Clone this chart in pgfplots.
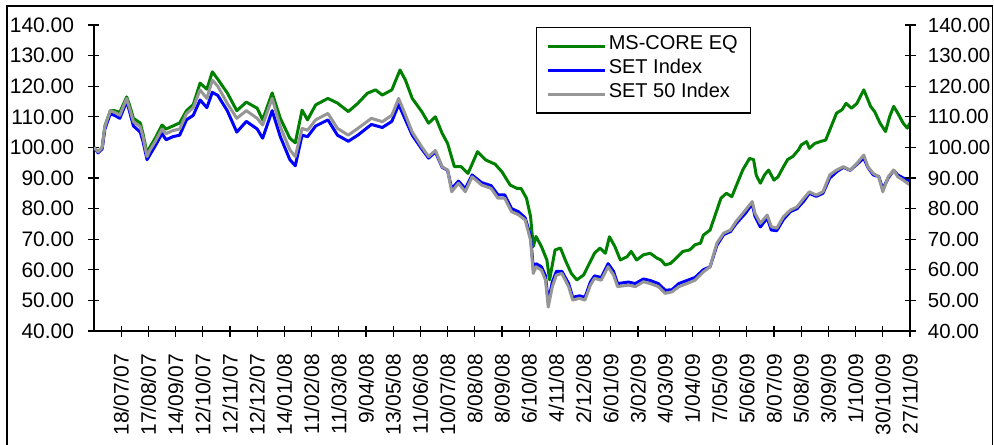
\documentclass[border=0pt]{standalone}
\usepackage{fontspec}
\setmainfont{Liberation Sans}
\usepackage{pgfplots}
\pgfplotsset{compat=1.18}
\usepackage{pgfplotstable}

\definecolor{msgreen}{RGB}{0,128,0}
\definecolor{setblue}{RGB}{0,0,255}
\definecolor{setgray}{RGB}{150,150,150}

\pgfplotstableread{
x y
0 100
3 98.5
6 100
8 107
12 112
15 112
19 111.5
24 116.5
26 114
29 109.5
34 108
36 104.5
39 98
41 100
45 103
50 107.3
53 106
58 107
63 108
68 112
73 114
78 121
83 119
87 124.7
91 122.3
98 117.8
105 112
112 114.8
120 112.8
124 109
131 117.8
137 109.5
144 103
148 101.5
153 112.2
157 109
163 113.9
172 116
179 114.5
187 111.7
194 114.4
201 117.7
207 118.8
212 117.1
219 118.8
225 125.3
229 122
234 116
241 111.7
246 107.9
251 110
256 104.6
260 101.3
265 93.7
270 93.7
275 91.5
282 98.6
288 95.9
295 94.5
300 92
306 87.7
311 86.6
314 86.6
318 83.4
321 77.4
323 67.6
325 70.9
329 67.6
333 63.2
335 56.7
339 66.5
343 67.1
347 62.7
351 58.8
355 56.7
360 58.3
363 61
368 65.4
372 67.1
376 65.4
379 70.8
383 67.6
387 63.2
392 64.3
395 66
399 63.2
404 64.9
409 65.4
414 63.8
417 63.2
420 61.6
424 62.1
428 63.8
433 66
438 66.5
442 68.2
446 68.7
448 71.3
453 73
458 79.5
461 83.4
465 85
469 83.9
472 87.2
477 92.6
482 96.4
485 96
487 90.8
490 88.3
493 91
496 92.6
500 89.3
503 90.4
507 93.7
510 96
514 97.1
518 99.2
520 100.8
524 101.9
526 99.7
530 101.3
534 101.9
538 102.4
540 104.6
544 109
546 111.2
550 112.3
553 114.4
557 112.8
561 114.4
566 118.8
568 116.7
571 113.4
574 111.7
578 107.9
582 105.2
585 110
588 113.4
591 111.2
595 107.9
598 106.3
600 108
}\tgreen

\pgfplotstableread{
x y
0 100
3 98.2
6 99.5
8 106
12 111
15 110.5
19 109.5
24 115
26 112
29 107
34 105
36 102
39 96
41 97.5
45 100.5
50 104.5
53 102.5
58 103.5
63 104
68 109
73 110.5
78 115.5
83 113
87 118
91 117
98 112
105 105
112 108.5
120 106
124 103
131 112
137 103.5
144 96
148 94
153 104
157 103.5
163 107
172 109
179 104
187 102
194 104
204 107.5
212 106.5
219 108.5
224 114
229 109
234 104
241 99.5
246 96.5
251 98.5
256 93.5
260 92.5
263 86.5
268 89
273 86.5
278 91
285 88.5
292 87.5
297 84.5
302 84.5
307 80
312 79
317 77
321 71
323 60.5
325 62
329 61
332 58
334 49.5
337 56
340 59.5
344 59.5
349 55.5
352 51
357 51.5
361 51
365 56
368 58
373 57.5
378 62
382 59.5
385 55.5
393 56
398 55.5
404 57
409 56.5
415 55.5
420 53.3
425 53.5
430 55.5
436 56.5
442 57.5
448 60
453 61
458 68
463 71.5
468 72.5
472 75
479 78.5
484 81.5
486 77.5
490 74
495 77
498 73
502 72.8
507 76.5
512 79
517 80
522 82.5
526 85
531 84
536 85
541 90
546 92
551 93.5
556 92.5
561 94.5
566 96.5
569 93.5
573 91
577 90.5
580 86.5
584 90
588 92.5
591 91
595 90
599 89.3
600 89
}\tblue

\pgfplotstableread{
x y
0 100
3 98.5
6 100
8 106.8
12 112
15 111.5
19 110.5
24 116
26 113
29 108.4
34 106.8
36 103.5
39 97
41 99
45 101.9
50 106
53 104.5
58 105.5
63 106
68 111
73 113
78 118.8
83 116
87 122
91 120
98 114.4
105 109.5
112 112
120 109.5
124 107.3
131 116
137 106.8
144 99.2
148 97
153 106.2
157 105.6
163 109
172 111.1
179 106.2
187 104
194 106.2
204 109.5
212 108.4
219 110.5
224 116
229 110.6
234 105
241 100.2
246 97
251 99
256 93.7
260 92.6
263 85.5
268 88.3
273 85.5
278 90.4
285 87.7
292 86.6
297 83.4
302 83.4
307 79
312 78
317 76.3
321 69.7
323 58.8
325 61
329 59.9
332 56.6
334 47.8
337 54.5
340 58.3
344 58.8
349 54.5
352 50.1
357 50.7
361 50.1
365 55
368 57.2
373 56.6
378 61
382 58.3
385 54.5
393 55
398 54.5
404 56.1
409 55.5
415 54.5
420 52.3
425 52.8
430 54.5
436 55.5
442 56.6
448 59.3
453 61
458 68.7
463 72
468 73
472 75.7
479 79.5
484 82.3
486 78.5
490 75.2
495 77.9
498 74.1
502 73.6
507 77.4
512 79.5
517 80.6
522 83.4
526 85.5
531 84.4
536 85.5
541 91
546 92.6
551 93.7
556 92.6
561 94.8
566 97.5
569 93.7
573 91.5
577 90.4
580 85.5
584 90.4
588 92.6
591 90.4
595 89.3
599 88
600 88
}\tgray

\pgfplotsset{
  common/.style={
    at={(47pt,56.5pt)}, anchor=south west,
    scale only axis, width=408pt, height=153pt,
    xmin=0, xmax=600, ymin=40, ymax=140,
    ytick={40,50,...,140},
    axis line style={black, line width=0.6pt},
    tick style={black, line width=0.6pt},
    major tick length=5.5pt, tick align=center,
    tick label style={font=\fontsize{10.5}{12}\selectfont, inner sep=0pt},
    /pgf/number format/assume math mode=true,
    yticklabel={\pgfmathprintnumber[fixed, fixed zerofill, precision=2]{\tick}},
  }
}

\begin{document}
\begin{tikzpicture}
\useasboundingbox (0,0) rectangle (497pt,222pt);
\draw[line width=0.65pt, black] (3.5pt,-1pt) -- (3.5pt,219pt) -- (496.2pt,219pt) -- (496.2pt,-1pt);
\begin{axis}[common,
  axis x line*=bottom, axis y line*=left,
  xtick={20,40,...,600},
  xticklabels={18/07/07,17/08/07,14/09/07,12/10/07,12/11/07,12/12/07,14/01/08,11/02/08,11/03/08,9/04/08,13/05/08,11/06/08,10/07/08,8/08/08,8/09/08,6/10/08,4/11/08,2/12/08,6/01/09,3/02/09,4/03/09,1/04/09,7/05/09,5/06/09,8/07/09,5/08/09,3/09/09,1/10/09,30/10/09,27/11/09},
  xticklabel style={rotate=90, anchor=east},
  xticklabel shift=8.5pt,
  yticklabel shift=7pt,
  legend style={at={(0.5413,0.9935)}, anchor=north west, draw=black, line width=0.6pt,
    inner xsep=5pt, inner ysep=3.35pt, row sep=0pt, column sep=0pt,
    font=\fontsize{10}{12}\selectfont,
    nodes={inner xsep=1.25pt, inner ysep=0pt, text height=7.55pt, text depth=4.45pt}},
  legend cell align=left,
  legend image code/.code={\draw[#1, line width=1.5pt] (0pt,0pt) -- (28.5pt,0pt);},
]
\addplot[msgreen, line width=1.5pt, line join=round, no marks] table[x=x,y=y] {\tgreen};
\addlegendentry{MS-CORE EQ}
\addplot[setblue, line width=1.5pt, line join=round, no marks] table[x=x,y=y] {\tblue};
\addlegendentry{SET Index}
\addplot[setgray, line width=1.5pt, line join=round, no marks] table[x=x,y=y] {\tgray};
\addlegendentry{SET 50 Index}
\end{axis}
\begin{axis}[common,
  axis y line*=right, axis x line=none,
  tick label style={font=\fontsize{10.2}{12}\selectfont, inner sep=0pt},
  yticklabel style={anchor=west},
  yticklabel shift=6pt,
]
\end{axis}
\end{tikzpicture}
\end{document}
